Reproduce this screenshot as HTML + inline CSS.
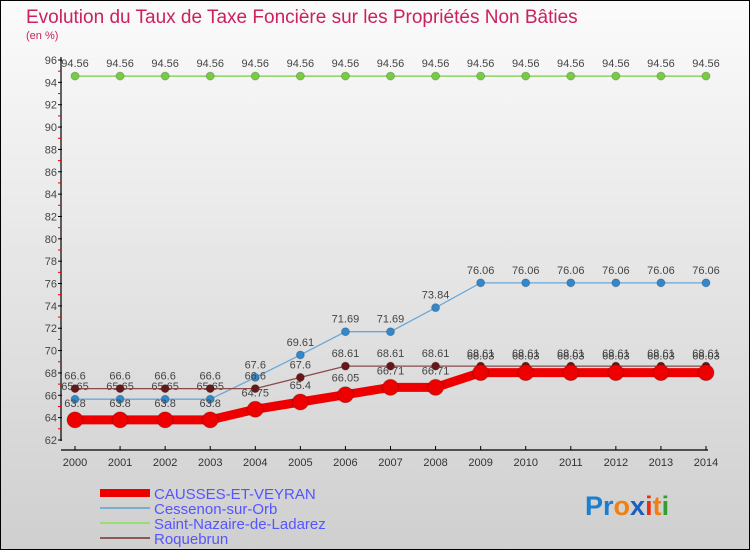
<!DOCTYPE html>
<html><head><meta charset="utf-8"><style>
body{margin:0;}
#wrap{position:relative;width:748px;height:548px;border:1px solid #000;background:linear-gradient(#fbfbfb,#cfcfcf);overflow:hidden;font-family:"Liberation Sans",sans-serif;}
</style></head><body>
<div id="wrap">
<svg width="748" height="548" viewBox="1 1 748 548" style="position:absolute;left:0;top:0">
<text x="26" y="23" font-size="19" fill="#cc2060">Evolution du Taux de Taxe Foncière sur les Propriétés Non Bâties</text>
<text x="26" y="39" font-size="11" fill="#cc2060">(en %)</text>
<g id="axes"></g>
<g id="series"></g>
<g id="legend"></g>
<text x="585" y="515" font-size="27" font-weight="bold"><tspan fill="#1a7fd0">Pr</tspan><tspan fill="#f08010">o</tspan><tspan fill="#1a60c0">x</tspan><tspan fill="#e83010">i</tspan><tspan fill="#f08010">t</tspan><tspan fill="#30a030">i</tspan></text>
</svg>
</div>
<script>
const years=[2000,2001,2002,2003,2004,2005,2006,2007,2008,2009,2010,2011,2012,2013,2014];
const causses=[63.8,63.8,63.8,63.8,64.75,65.4,66.05,66.71,66.71,68.03,68.03,68.03,68.03,68.03,68.03];
const cessenon=[65.65,65.65,65.65,65.65,67.6,69.61,71.69,71.69,73.84,76.06,76.06,76.06,76.06,76.06,76.06];
const nazaire=[94.56,94.56,94.56,94.56,94.56,94.56,94.56,94.56,94.56,94.56,94.56,94.56,94.56,94.56,94.56];
const roquebrun=[66.6,66.6,66.6,66.6,66.6,67.6,68.61,68.61,68.61,68.61,68.61,68.61,68.61,68.61,68.61];
const yTicks=[62,64,66,68,70,72,74,76,78,80,82,84,86,88,90,92,94,96];
const seriesNames=["CAUSSES-ET-VEYRAN","Cessenon-sur-Orb","Saint-Nazaire-de-Ladarez","Roquebrun"];

const NS="http://www.w3.org/2000/svg";
const x=i=>75+i*(706-75)/(years.length-1);
const y=v=>440-(v-62)*(380/34);
function mk(tag,attrs,parent,text){const e=document.createElementNS(NS,tag);for(const k in attrs)e.setAttribute(k,attrs[k]);if(text!==undefined)e.textContent=text;parent.appendChild(e);return e;}
const axes=document.getElementById('axes');
let yl=mk('line',{x1:61,y1:57,x2:61,y2:441,stroke:'#000','stroke-width':1.2},axes);


let xl=mk('line',{x1:61,y1:450,x2:708,y2:450,stroke:'#000','stroke-width':1.2},axes);


yTicks.forEach((t,i)=>{
  mk('line',{x1:58,y1:y(t),x2:62,y2:y(t),stroke:'#000'},axes);
  if(i<yTicks.length-1) mk('line',{x1:58,y1:y(t+1),x2:61,y2:y(t+1),stroke:'#e00'},axes);
  const tx=mk('text',{x:57,y:y(t)+4,'font-size':11,'text-anchor':'end',fill:'#444'},axes,String(t));
  
  
});
years.forEach((yr,i)=>{
  mk('line',{x1:x(i),y1:446,x2:x(i),y2:450,stroke:'#000'},axes);
  const tx=mk('text',{x:x(i),y:466,'font-size':11,'text-anchor':'middle',fill:'#333'},axes,String(yr));
  
  
});
const sg=document.getElementById('series');
const defs=[
 {d:nazaire,c:'#77cc44',w:1.3,r:4,name:'series-saint-nazaire'},
 {d:cessenon,c:'#6aa8d8',w:1.3,r:4,pc:'#3388cc',name:'series-cessenon'},
 {d:roquebrun,c:'#8a4a4a',w:1.3,r:4,pc:'#661818',name:'series-roquebrun'},
 {d:causses,c:'#ee0000',w:9,r:8,name:'series-causses'}
];
defs.forEach(s=>{
  const g=mk('g',{},sg);
  
  
  const pl=mk('polyline',{points:s.d.map((v,i)=>x(i)+','+y(v)).join(' '),fill:'none',stroke:s.c,'stroke-width':s.w},g);
  
  
  s.d.forEach((v,i)=>{
    const p=mk('circle',{cx:x(i),cy:y(v),r:s.r,fill:s.pc||s.c,stroke:'#0003'},g);
    
    
    const t=mk('text',{x:x(i),y:y(v)-(s.r+5),'font-size':11,'text-anchor':'middle',fill:'#444'},g,String(v));
    
    
  });
});
const lg=document.getElementById('legend');
const lc=['#ee0000','#7aaed0','#99dd77','#8a5a5a'],lw=[8,2,2,2];
seriesNames.forEach((n,i)=>{
  const yy=493+i*15;
  const g=mk('g',{},lg);
  
  
  mk('line',{x1:100,y1:yy,x2:150,y2:yy,stroke:lc[i],'stroke-width':lw[i]},g);
  mk('text',{x:154,y:yy+6,'font-size':15,fill:'#5555ff'},g,n);
});
</script>
</body></html>
